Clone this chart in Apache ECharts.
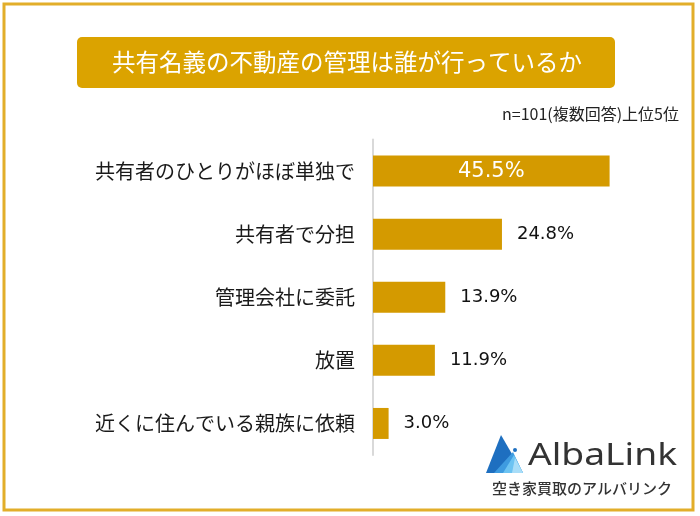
<!DOCTYPE html>
<html>
<head>
<meta charset="utf-8">
<script src="https://cdn.jsdelivr.net/npm/echarts@6/dist/echarts.min.js"></script>
<style>
  html, body { margin: 0; padding: 0; background: #fff; }
  #chart { width: 700px; height: 516px; }
</style>
</head>
<body>
<div id="chart"></div>
<script>
const categories = [
    '共有者のひとりがほぼ単独で',
    '共有者で分担',
    '管理会社に委託',
    '放置',
    '近くに住んでいる親族に依頼'
];
const values = [45.5, 24.8, 13.9, 11.9, 3.0];
const titleText = '共有名義の不動産の管理は誰が行っているか';
const noteText = 'n=101(複数回答)上位5位';

const gold = '#D49A00';
const font = '"Noto Sans CJK JP", "Noto Sans", sans-serif';
const numFont = '"DejaVu Sans", "Noto Sans CJK JP", sans-serif';

const init = () => {
    const myChart = echarts.init(document.getElementById('chart'));

    const seriesData = values.map((v, i) => {
        if (i === 0) {
            return {
                value: v,
                label: { position: 'inside', color: '#fff', fontSize: 21, distance: 0 }
            };
        }
        return { value: v };
    });

    let option = {
        backgroundColor: '#fff',
        textStyle: { fontFamily: font },
        grid: { left: 373, right: 67, top: 139.5, bottom: 61, containLabel: false },
        xAxis: {
            type: 'value',
            min: 0,
            max: 50,
            show: false
        },
        yAxis: {
            type: 'category',
            data: categories,
            inverse: true,
            axisLine: { show: true, lineStyle: { color: '#d9d9d9', width: 2 } },
            axisTick: { show: false },
            axisLabel: { color: '#1a1a1a', fontSize: 20, margin: 18, fontFamily: font }
        },
        series: [
            {
                type: 'bar',
                data: seriesData,
                barWidth: 31,
                itemStyle: { color: gold },
                label: {
                    show: true,
                    position: 'right',
                    distance: 15,
                    color: '#111',
                    fontSize: 18,
                    fontFamily: numFont,
                    formatter: (p) => p.value.toFixed(1) + '%'
                }
            }
        ],
        graphic: [
            {
                type: 'rect',
                shape: { x: 4, y: 4, width: 689, height: 506 },
                style: { fill: 'none', stroke: '#E2AE2A', lineWidth: 3 },
                silent: true
            },
            {
                type: 'rect',
                shape: { x: 77, y: 37, width: 538, height: 51, r: 5 },
                style: { fill: '#DBA300' }
            },
            {
                type: 'text',
                x: 347,
                y: 62.5,
                style: {
                    text: titleText,
                    fill: '#fff',
                    fontSize: 23.5,
                    fontFamily: font,
                    align: 'center',
                    verticalAlign: 'middle'
                }
            },
            {
                type: 'text',
                x: 679,
                y: 114,
                style: {
                    text: noteText,
                    fill: '#222',
                    fontSize: 16,
                    fontFamily: font,
                    align: 'right',
                    verticalAlign: 'middle'
                }
            },
            // logo icon
            {
                type: 'polygon',
                shape: { points: [[501, 435], [486, 473], [523, 473]] },
                style: { fill: '#1E6FC0' }
            },
            {
                type: 'polygon',
                shape: { points: [[494, 473], [513, 452], [523, 473]] },
                style: { fill: '#3E9BE0' }
            },
            {
                type: 'polygon',
                shape: { points: [[503, 473], [514, 455], [523, 473]] },
                style: { fill: '#6CC3F2' }
            },
            {
                type: 'polygon',
                shape: { points: [[512, 473], [515, 458], [523, 473]] },
                style: { fill: '#A8DDF8' }
            },
            {
                type: 'circle',
                shape: { cx: 515, cy: 450, r: 2 },
                style: { fill: '#1E6FC0' }
            },
            {
                type: 'text',
                x: 528,
                y: 456,
                scaleX: 1.2,
                style: {
                    text: 'AlbaLink',
                    fill: '#333',
                    fontSize: 31,
                    fontFamily: '"Noto Sans", sans-serif',
                    align: 'left',
                    verticalAlign: 'middle'
                }
            },
            {
                type: 'text',
                x: 582,
                y: 488,
                style: {
                    text: '空き家買取のアルバリンク',
                    fill: '#333',
                    fontSize: 15,
                    fontWeight: 500,
                    fontFamily: font,
                    align: 'center',
                    verticalAlign: 'middle'
                }
            }
        ]
    };
    myChart.setOption(option);
    window.addEventListener('resize', () => {
        myChart.resize();
    });
};
init();
</script>
</body>
</html>
